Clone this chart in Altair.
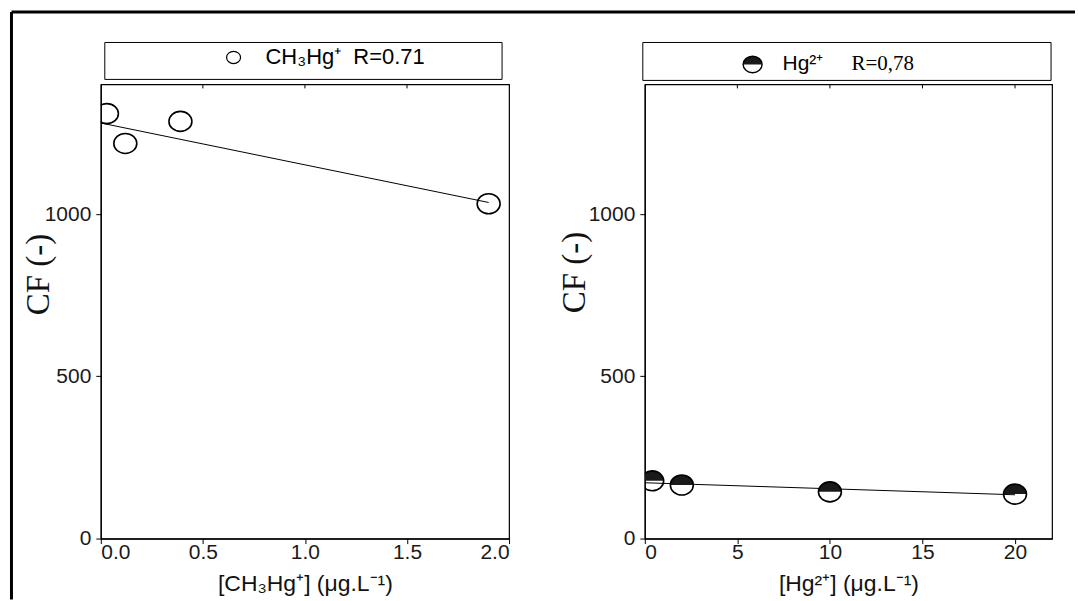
import altair as alt
import pandas as pd

# --- data -----------------------------------------------------------------
# CH3Hg+ exposure: concentration (ug/L) vs concentration factor
ch3_conc = [0.03, 0.12, 0.39, 1.90]
ch3_cf = [1310, 1218, 1286, 1032]
ch3_fit_conc = [0.0, 1.90]
ch3_fit_cf = [1281, 1036]

# Hg2+ exposure
hg_conc = [0.4, 2.0, 10.0, 20.0]
hg_cf = [178, 165, 144, 137]
hg_fit_conc = [0.0, 20.0]
hg_fit_cf = [172, 135]

cf_ticks = [0, 500, 1000]
ch3_ticks = [0.0, 0.5, 1.0, 1.5, 2.0]
ch3_top_ticks = [0.5, 1.0, 1.5]
hg_ticks = [0, 5, 10, 15, 20]
hg_top_ticks = [5, 10, 15, 20]

ch3_legend = ["CH\u2083Hg\u207a\u00a0\u00a0R=0.71"]
hg_legend_ion = ["Hg\u00b2\u207a"]
hg_legend_r = ["R=0,78"]

SANS = "Liberation Sans"
SERIF = "Liberation Serif"
W1, W2, H = 409, 408, 455

# symbol paths (slightly flattened ellipse, and its upper half)
ELLIPSE = "M-1,0A1,0.87,0,1,1,1,0A1,0.87,0,1,1,-1,0Z"
TOP_HALF = "M-1,0A1,0.87,0,0,1,1,0Z"


def y_enc(title_x, title_y):
    return alt.Y(
        "cf:Q",
        scale=alt.Scale(domain=[0, 1400], nice=False, zero=False),
        axis=alt.Axis(
            values=cf_ticks, format="d", title="CF (-)", titleFont=SERIF,
            titleFontSize=33, titleFontWeight="normal", titleAngle=270,
            titleAlign="center", titleBaseline="bottom", titleX=title_x,
            titleY=title_y, labelPadding=5, tickSize=5,
        ),
    )


def x_enc(domain, values, fmt, title):
    return alt.X(
        "conc:Q",
        scale=alt.Scale(domain=domain, nice=False, zero=False),
        axis=alt.Axis(
            values=values, format=fmt, title=title, titleFont=SANS,
            titleFontSize=23, titleFontWeight="normal", titleBaseline="alphabetic",
            titleY=52, labelBaseline="alphabetic", labelPadding=15, tickSize=5,
        ),
    )


one_row = pd.DataFrame({"k": [0]})


def top_ticks(values, xe):
    return alt.Chart(pd.DataFrame({"conc": values})).mark_rule(
        color="black", strokeWidth=1
    ).encode(x=xe, y=alt.value(0), y2=alt.value(4))


def legend_box(x1, x2, y1, y2):
    return alt.Chart(one_row).mark_rect(
        fill="white", stroke="black", strokeWidth=1
    ).encode(x=alt.value(x1), x2=alt.value(x2), y=alt.value(y1), y2=alt.value(y2))


# --- left panel: CH3Hg+ ---------------------------------------------------
xl = x_enc([0, 2.0], ch3_ticks, ".1f", "[CH\u2083Hg\u207a] (\u03bcg.L\u207b\u00b9)")
yl = y_enc(-45, 190)

ch3_df = pd.DataFrame({"conc": ch3_conc, "cf": ch3_cf})
ch3_fit = pd.DataFrame({"conc": ch3_fit_conc, "cf": ch3_fit_cf})

left = alt.layer(
    alt.Chart(ch3_fit).mark_line(color="black", strokeWidth=1).encode(x=xl, y=yl),
    alt.Chart(ch3_df).mark_point(
        shape=ELLIPSE, size=529, filled=False, stroke="black", strokeWidth=1.6,
        opacity=1, clip=True,
    ).encode(x=xl, y=yl),
    top_ticks(ch3_top_ticks, xl),
    legend_box(4, 402, -42, -5),
    alt.Chart(one_row).mark_point(
        shape=ELLIPSE, size=196, filled=False, stroke="black", strokeWidth=1.2, opacity=1
    ).encode(x=alt.value(133), y=alt.value(-27)),
    alt.Chart(pd.DataFrame({"t": ch3_legend})).mark_text(
        align="left", baseline="alphabetic", font=SANS, fontSize=22, color="black"
    ).encode(x=alt.value(165), y=alt.value(-20), text="t:N"),
    # page frame: left edge and top edge
    alt.Chart(one_row).mark_rule(color="black", strokeWidth=3).encode(
        x=alt.value(-89.5), y=alt.value(-72.5), y2=alt.value(516)
    ),
    alt.Chart(one_row).mark_rule(color="black", strokeWidth=3).encode(
        x=alt.value(-89.5), x2=alt.value(976), y=alt.value(-72.5)
    ),
).properties(width=W1, height=H)

# --- right panel: Hg2+ ----------------------------------------------------
xr = x_enc([0, 22], hg_ticks, "d", "[Hg\u00b2\u207a] (\u03bcg.L\u207b\u00b9)")
yr = y_enc(-53, 188)

hg_df = pd.DataFrame({"conc": hg_conc, "cf": hg_cf})
hg_fit = pd.DataFrame({"conc": hg_fit_conc, "cf": hg_fit_cf})

right = alt.layer(
    alt.Chart(hg_fit).mark_line(color="black", strokeWidth=1).encode(x=xr, y=yr),
    alt.Chart(hg_df).mark_point(
        shape=TOP_HALF, size=529, filled=True, color="#1a1a1a", opacity=1, clip=True
    ).encode(x=xr, y=yr),
    alt.Chart(hg_df).mark_point(
        shape=ELLIPSE, size=529, filled=False, stroke="black", strokeWidth=1.6,
        opacity=1, clip=True,
    ).encode(x=xr, y=yr),
    top_ticks(hg_top_ticks, xr),
    legend_box(-2, 407, -42, -4),
    alt.Chart(one_row).mark_point(
        shape=TOP_HALF, size=361, filled=True, color="#1a1a1a", opacity=1
    ).encode(x=alt.value(108), y=alt.value(-20)),
    alt.Chart(one_row).mark_point(
        shape=ELLIPSE, size=361, filled=False, stroke="black", strokeWidth=1.4, opacity=1
    ).encode(x=alt.value(108), y=alt.value(-20)),
    alt.Chart(pd.DataFrame({"t": hg_legend_ion})).mark_text(
        align="left", baseline="alphabetic", font=SANS, fontSize=21, color="black"
    ).encode(x=alt.value(138), y=alt.value(-14), text="t:N"),
    alt.Chart(pd.DataFrame({"t": hg_legend_r})).mark_text(
        align="left", baseline="alphabetic", font=SERIF, fontSize=21, color="black"
    ).encode(x=alt.value(207), y=alt.value(-14), text="t:N"),
).properties(width=W2, height=H)

chart = (
    alt.hconcat(left, right, spacing=136, bounds="flush")
    .properties(padding={"left": 9, "top": 9, "right": 0, "bottom": 0}, background="white")
    .configure_view(stroke="black", strokeWidth=1.2)
    .configure_axis(
        grid=False, domainColor="black", domainWidth=1.2, tickColor="black",
        labelColor="#1a1a1a", labelFont=SANS, labelFontSize=21, titleColor="#111111",
    )
)

chart.save("out.html", embed_options={"renderer": "svg", "actions": False})
